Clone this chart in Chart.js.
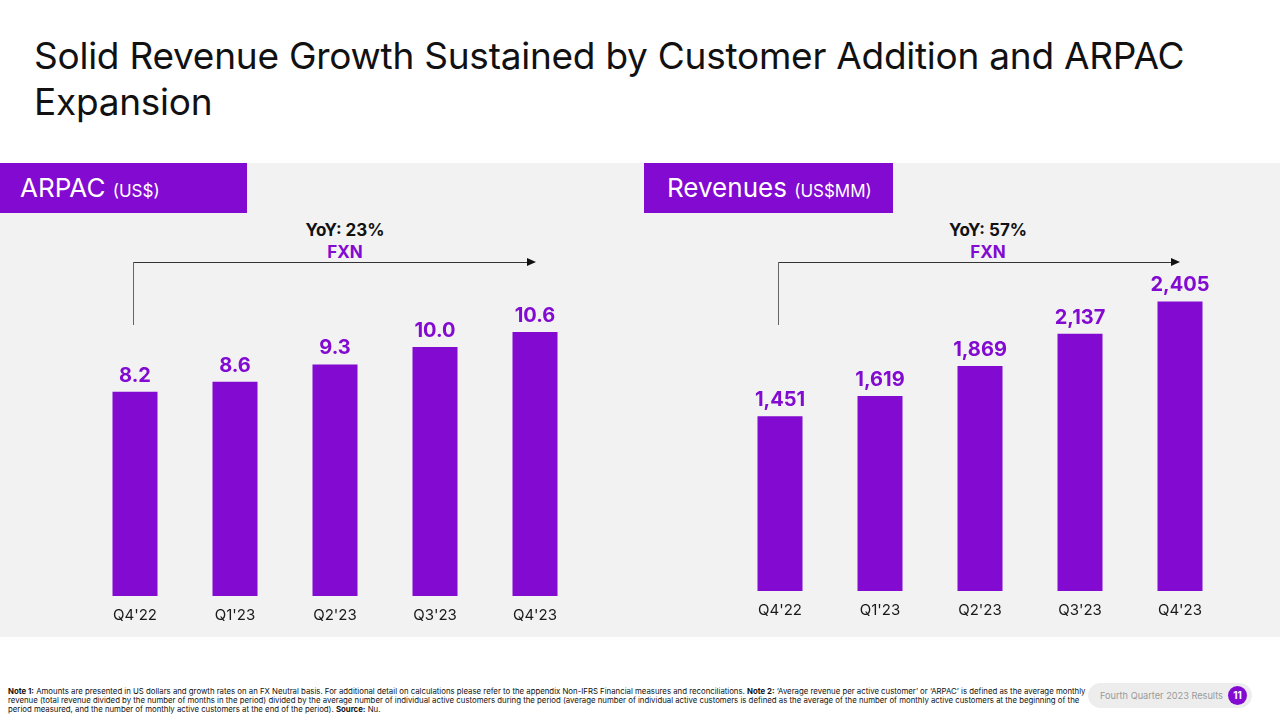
<!DOCTYPE html>
<html>
<head>
<meta charset="utf-8">
<script src="https://cdn.jsdelivr.net/npm/chart.js@4.4.1/dist/chart.umd.min.js"></script>
<style>
  html, body { margin: 0; padding: 0; background: #fff; }
  body { width: 1280px; height: 722px; position: relative; overflow: hidden; font-family: Inter, "Noto Sans", sans-serif; color: #111; }
  .title { position: absolute; left: 34px; top: 33px; font-size: 37px; line-height: 46px; font-weight: 400; letter-spacing: -0.25px; }
  .panel { position: absolute; left: 0; top: 163px; width: 1280px; height: 474px; background: #f2f2f2; }
  .tag { position: absolute; top: 163px; height: 50px; background: #820ad1; color: #fff; font-size: 26px; line-height: 50px; box-sizing: border-box; }
  .tag small { font-size: 17px; }
  .yoy { position: absolute; width: 200px; text-align: center; font-weight: 700; font-size: 17px; line-height: 22px; }
  .yoy .fxn { color: #820ad1; }
  .hline { position: absolute; height: 1px; background: #333; }
  .vline { position: absolute; width: 1px; background: #666; }
  .head { position: absolute; width: 0; height: 0; border-top: 4px solid transparent; border-bottom: 4px solid transparent; border-left: 9px solid #111; }
  .box { position: absolute; }
  .note { position: absolute; left: 8px; top: 687px; font-size: 7.8px; line-height: 9px; color: #111; white-space: nowrap; }
  .badge { position: absolute; left: 1088px; top: 683px; width: 164px; height: 25px; border-radius: 13px; background: #ededed; }
  .badge span { position: absolute; left: 12px; top: 0; line-height: 25px; font-size: 9.2px; color: #9a9a9a; }
  .badge b { position: absolute; right: 5px; top: 3px; width: 19px; height: 19px; border-radius: 50%; background: #820ad1; color: #fff; font-size: 10px; line-height: 19px; text-align: center; }
</style>
</head>
<body>
<div class="title">Solid Revenue Growth Sustained by Customer Addition and ARPAC<br>Expansion</div>
<div class="panel"></div>

<div class="tag" style="left:0;width:247px;padding-left:20px;">ARPAC <small>(US$)</small></div>
<div class="tag" style="left:644px;width:249px;padding-left:23px;">Revenues <small>(US$MM)</small></div>

<div class="yoy" style="left:245px;top:219px;">YoY: 23%<br><span class="fxn">FXN</span></div>
<div class="hline" style="left:133px;top:262px;width:395px;"></div>
<div class="vline" style="left:133px;top:262px;height:63px;"></div>
<div class="head" style="left:527px;top:258px;"></div>

<div class="yoy" style="left:888px;top:219px;">YoY: 57%<br><span class="fxn">FXN</span></div>
<div class="hline" style="left:778px;top:262px;width:394px;"></div>
<div class="vline" style="left:778px;top:262px;height:63px;"></div>
<div class="head" style="left:1171px;top:258px;"></div>

<div class="box" style="left:85px;top:258px;width:500px;height:380px;"><canvas id="arpacChart"></canvas></div>
<div class="box" style="left:730px;top:253px;width:500px;height:380px;"><canvas id="revenueChart"></canvas></div>

<div class="note"><b>Note 1:</b> Amounts are presented in US dollars and growth rates on an FX Neutral basis. For additional detail on calculations please refer to the appendix Non-IFRS Financial measures and reconciliations. <b>Note 2:</b> ‘Average revenue per active customer’ or ‘ARPAC’ is defined as the average monthly<br>revenue (total revenue divided by the number of months in the period) divided by the average number of individual active customers during the period (average number of individual active customers is defined as the average of the number of monthly active customers at the beginning of the<br>period measured, and the number of monthly active customers at the end of the period). <b>Source:</b> Nu.</div>

<div class="badge"><span>Fourth Quarter 2023 Results</span><b>11</b></div>

<script>
(function () {
    'use strict';

    // data
    const quarters = ["Q4'22", "Q1'23", "Q2'23", "Q3'23", "Q4'23"];
    const arpacValues = [8.2, 8.6, 9.3, 10.0, 10.6];
    const revenueValues = [1451, 1619, 1869, 2137, 2405];

    const PURPLE = '#820ad1';

    // value labels above each bar
    const barLabels = {
        id: 'barLabels',
        afterDatasetsDraw: function (chart, args, opts) {
            const ctx = chart.ctx;
            const meta = chart.getDatasetMeta(0);
            ctx.save();
            ctx.fillStyle = PURPLE;
            ctx.font = 'bold 20px Inter, "Noto Sans", sans-serif';
            ctx.textAlign = 'center';
            ctx.textBaseline = 'bottom';
            meta.data.forEach(function (bar, i) {
                const v = chart.data.datasets[0].data[i];
                ctx.fillText(opts.format(v), bar.x, bar.y - 6);
            });
            ctx.restore();
        }
    };

    function buildChart(canvasId, values, yMax, format) {
        new Chart(document.getElementById(canvasId).getContext('2d'), {
            type: 'bar',
            data: {
                labels: quarters,
                datasets: [{
                    data: values,
                    backgroundColor: PURPLE,
                    borderWidth: 0,
                    barPercentage: 0.45,
                    categoryPercentage: 1
                }]
            },
            options: {
                responsive: true,
                maintainAspectRatio: false,
                animation: false,
                layout: { padding: { top: 30, bottom: 4, left: 0, right: 0 } },
                plugins: {
                    legend: { display: false },
                    tooltip: { enabled: false },
                    barLabels: { format: format }
                },
                scales: {
                    x: {
                        grid: { display: false, drawTicks: false },
                        border: { display: false },
                        ticks: {
                            padding: 10,
                            color: '#1a1a1a',
                            font: { family: 'Inter, "Noto Sans", sans-serif', size: 15 }
                        }
                    },
                    y: {
                        display: false,
                        min: 0,
                        max: yMax
                    }
                }
            },
            plugins: [barLabels]
        });
    }

    buildChart('arpacChart', arpacValues, 12.37, function (v) { return v.toFixed(1); });
    buildChart('revenueChart', revenueValues, 2558, function (v) { return v.toLocaleString('en-US'); });
})();
</script>
</body>
</html>
